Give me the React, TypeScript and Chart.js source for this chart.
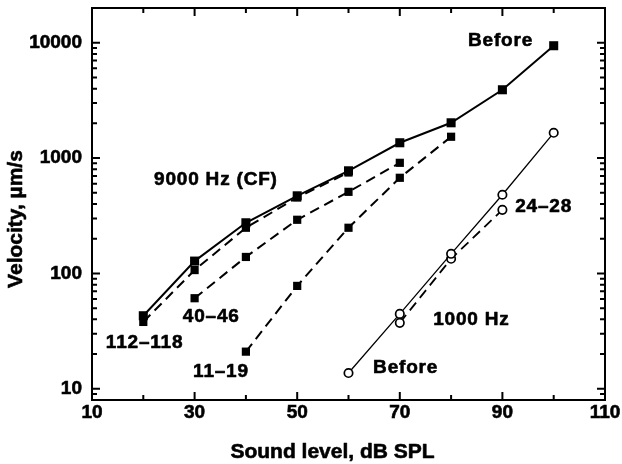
import React, { useEffect, useRef } from "react";
import { Chart, registerables } from "chart.js";

Chart.register(...registerables);

// ---- Data ----
const cfBeforeLevels = [20, 30, 40, 50, 60, 70, 80, 90, 100];
const cfBefore = [43, 128, 275, 471, 776, 1358, 2023, 3911, 9418];

const cf112Levels = [20, 30, 40, 50, 60];
const cf112 = [38, 107, 249, 455, 750];

const cf40Levels = [30, 40, 50, 60, 70];
const cf40 = [61, 139, 292, 510, 910];

const cf11Levels = [40, 50, 60, 70, 80];
const cf11 = [21, 78, 249, 675, 1531];

const lfBeforeLevels = [60, 70, 80, 90, 100];
const lfBefore = [13.7, 44.6, 148, 481, 1657];

const lf24Levels = [70, 80, 90];
const lf24 = [37.3, 134, 356];

const xTickLabels = [10, 30, 50, 70, 90, 110];
const yTickLabels = [10, 100, 1000, 10000];

const xTitle = "Sound level, dB SPL";
const yTitle = "Velocity, \u00b5m/s";

// in-plot labels anchored in data coordinates (left edge, vertical middle)
const noteTexts = ["Before", "9000 Hz (CF)", "24\u201328", "1000 Hz", "Before", "112\u2013118", "40\u201346", "11\u201319"];
const noteX = [83.3, 22.1, 92.5, 76.5, 64.8, 12.7, 27.7, 29.7];
const noteY = [10400, 649, 378, 39.6, 15.2, 25.0, 42.1, 14.0];

const FONT = "'Liberation Sans', Arial, Helvetica, sans-serif";

const toPts = (xs: number[], ys: number[]) => xs.map((x, i) => ({ x, y: ys[i] }));

const framePlugin = {
  id: "frame",
  beforeDatasetsDraw(chart: any) {
    const { ctx, chartArea: a, scales } = chart;
    const x = scales.x;
    const y = scales.y;
    ctx.save();
    ctx.strokeStyle = "#000";
    ctx.lineWidth = 2;
    ctx.strokeRect(a.left, a.top, a.right - a.left, a.bottom - a.top);
    ctx.beginPath();
    for (let v = 20; v <= 100; v += 10) {
      const px = x.getPixelForValue(v);
      const len = xTickLabels.includes(v) ? 8 : 5;
      ctx.moveTo(px, a.bottom);
      ctx.lineTo(px, a.bottom - len);
      ctx.moveTo(px, a.top);
      ctx.lineTo(px, a.top + len);
    }
    for (let k = 0; k <= 4; k++) {
      for (let m = 1; m <= 9; m++) {
        const v = m * Math.pow(10, k);
        if (v <= y.min || v >= y.max) continue;
        const py = y.getPixelForValue(v);
        const len = m === 1 ? 8 : 5;
        ctx.moveTo(a.left, py);
        ctx.lineTo(a.left + len, py);
        ctx.moveTo(a.right, py);
        ctx.lineTo(a.right - len, py);
      }
    }
    ctx.stroke();
    ctx.restore();
  },
  afterDraw(chart: any) {
    const { ctx, chartArea: a, scales } = chart;
    const x = scales.x;
    const y = scales.y;
    ctx.save();
    ctx.fillStyle = "#000";
    ctx.strokeStyle = "#000";
    ctx.lineWidth = 0.6;
    ctx.lineJoin = "round";
    ctx.textBaseline = "middle";
    ctx.textAlign = "left";
    ctx.font = `bold 19px ${FONT}`;
    (ctx as any).letterSpacing = "0.8px";
    noteTexts.forEach((t, i) => {
      const px = x.getPixelForValue(noteX[i]);
      const py = y.getPixelForValue(noteY[i]);
      ctx.fillText(t, px, py);
      ctx.strokeText(t, px, py);
    });
    (ctx as any).letterSpacing = "0px";
    ctx.font = `bold 21px ${FONT}`;
    ctx.textAlign = "center";
    const tx = (a.left + a.right) / 2 - 16;
    const ty = a.bottom + 52;
    ctx.fillText(xTitle, tx, ty);
    ctx.strokeText(xTitle, tx, ty);
    ctx.translate(16, (a.top + a.bottom) / 2 + 15);
    ctx.rotate(-Math.PI / 2);
    ctx.fillText(yTitle, 0, 0);
    ctx.strokeText(yTitle, 0, 0);
    ctx.restore();
  },
};

export default function App() {
  const ref = useRef<HTMLCanvasElement | null>(null);

  useEffect(() => {
    if (!ref.current) return;
    const solidSq = {
      borderColor: "#000",
      backgroundColor: "#000",
      pointStyle: "rect",
      pointRadius: 6.4,
      pointBorderWidth: 0,
      pointBackgroundColor: "#000",
      borderWidth: 2,
    };
    const dashedSq = { ...solidSq, borderDash: [10, 6], pointRadius: 5.8 };
    const openCirc = {
      borderColor: "#000",
      backgroundColor: "#fff",
      pointStyle: "circle",
      pointRadius: 4.2,
      pointBorderWidth: 1.7,
      pointBackgroundColor: "#fff",
      pointBorderColor: "#000",
      borderWidth: 1.3,
    };
    const tickFont = { family: FONT, size: 19, weight: "bold" as const };

    const chart = new Chart(ref.current, {
      type: "line",
      data: {
        datasets: [
          { label: "9000 Hz Before", data: toPts(cfBeforeLevels, cfBefore), ...solidSq } as any,
          { label: "9000 Hz 112-118", data: toPts(cf112Levels, cf112), ...dashedSq } as any,
          { label: "9000 Hz 40-46", data: toPts(cf40Levels, cf40), ...dashedSq } as any,
          { label: "9000 Hz 11-19", data: toPts(cf11Levels, cf11), ...dashedSq } as any,
          { label: "1000 Hz Before", data: toPts(lfBeforeLevels, lfBefore), ...openCirc } as any,
          { label: "1000 Hz 24-28", data: toPts(lf24Levels, lf24), ...openCirc, borderDash: [10, 6], borderWidth: 1.8 } as any,
        ],
      },
      options: {
        responsive: false,
        animation: false,
        devicePixelRatio: 1,
        parsing: false as any,
        layout: { padding: { top: 8, right: 17, bottom: 0, left: 0 } },
        plugins: { legend: { display: false }, tooltip: { enabled: false }, title: { display: false } },
        scales: {
          x: {
            type: "linear",
            min: 10,
            max: 110,
            grid: { display: false, drawTicks: false },
            border: { display: false },
            afterBuildTicks: (s: any) => {
              s.ticks = xTickLabels.map((v) => ({ value: v }));
            },
            afterFit: (s: any) => {
              s.height = 64;
              s.paddingLeft = 0;
              s.paddingRight = 0;
            },
            ticks: {
              padding: 1,
              color: "#000",
              font: tickFont,
              maxRotation: 0,
              autoSkip: false,
              textStrokeColor: "#000",
              textStrokeWidth: 0.6,
              callback: (v: any) => String(v),
            } as any,
          },
          y: {
            type: "logarithmic",
            min: 8,
            max: 20000,
            grid: { display: false, drawTicks: false },
            border: { display: false },
            afterBuildTicks: (s: any) => {
              s.ticks = yTickLabels.map((v) => ({ value: v }));
            },
            afterFit: (s: any) => {
              s.width = 92;
              s.paddingTop = 0;
              s.paddingBottom = 0;
            },
            ticks: {
              padding: 10,
              color: "#000",
              font: tickFont,
              autoSkip: false,
              textStrokeColor: "#000",
              textStrokeWidth: 0.6,
              callback: (v: any) => String(v),
            } as any,
          },
        },
      },
      plugins: [framePlugin],
    });
    return () => chart.destroy();
  }, []);

  return (
    <div style={{ position: "fixed", left: 0, top: 0, width: 622, height: 464, background: "#fff" }}>
      <canvas ref={ref} width={622} height={464} style={{ width: 622, height: 464, display: "block" }} />
    </div>
  );
}
